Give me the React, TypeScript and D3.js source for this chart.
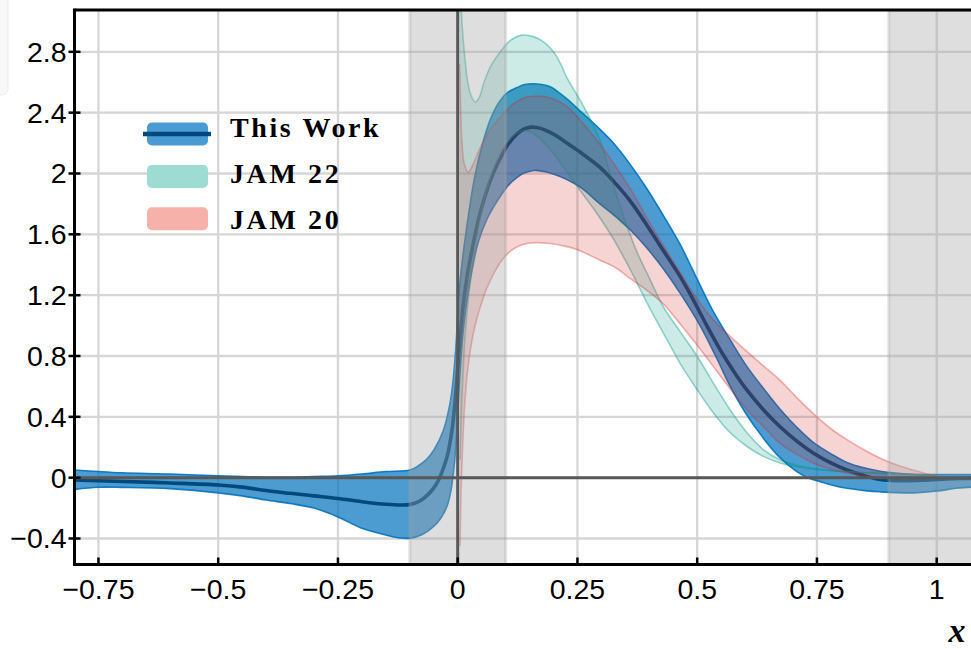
import * as d3 from "d3";

type Pt = [number, number];

// axis ticks
const xTicks = [-0.75, -0.5, -0.25, 0, 0.25, 0.5, 0.75, 1];
const yTicks = [-0.4, 0, 0.4, 0.8, 1.2, 1.6, 2, 2.4, 2.8];
const shadedRanges: Pt[] = [[-0.1, 0.1], [0.9, 1.2]];
const legendLabels = ["This Work", "JAM 22", "JAM 20"];

// This Work: central value and band
const thisWorkCentral: Pt[] = [
  [-0.8, -0.015], [-0.75, -0.02], [-0.7, -0.025], [-0.6, -0.035], [-0.5, -0.048], [-0.45, -0.062],
  [-0.4, -0.085], [-0.35, -0.103], [-0.3, -0.12], [-0.25, -0.137], [-0.2, -0.158], [-0.15, -0.175],
  [-0.12, -0.18], [-0.1, -0.177], [-0.08, -0.155], [-0.06, -0.105], [-0.045, -0.045], [-0.035, 0.02],
  [-0.022, 0.14], [-0.012, 0.31], [-0.005, 0.52], [0, 0.72], [0.006, 0.95], [0.012, 1.15], [0.02, 1.33],
  [0.03, 1.5], [0.042, 1.68], [0.054, 1.82], [0.07, 1.97], [0.089, 2.1], [0.105, 2.19], [0.124, 2.26],
  [0.14, 2.295], [0.155, 2.305], [0.175, 2.295], [0.193, 2.27], [0.21, 2.24], [0.228, 2.2], [0.26, 2.13],
  [0.297, 2.04], [0.325, 1.95], [0.36, 1.82], [0.395, 1.66], [0.43, 1.49], [0.465, 1.32], [0.49, 1.18],
  [0.52, 1.0], [0.548, 0.84], [0.576, 0.7], [0.604, 0.575], [0.64, 0.44], [0.673, 0.335], [0.71, 0.235],
  [0.743, 0.16], [0.78, 0.095], [0.8125, 0.05], [0.85, 0.012], [0.882, -0.012], [0.92, -0.02],
  [0.96, -0.018], [1.0, -0.012], [1.05, -0.006], [1.1, -0.004],
];
const thisWorkUpper: Pt[] = [
  [-0.8, 0.05], [-0.75, 0.04], [-0.7, 0.032], [-0.6, 0.024], [-0.5, 0.012], [-0.4, 0.003], [-0.35, 0.002],
  [-0.3, 0.007], [-0.25, 0.012], [-0.2, 0.024], [-0.15, 0.04], [-0.1, 0.05], [-0.085, 0.072], [-0.065, 0.12],
  [-0.05, 0.18], [-0.03, 0.31], [-0.016, 0.49], [-0.009, 0.66], [-0.003, 0.9], [0.002, 1.19], [0.009, 1.41],
  [0.019, 1.65], [0.035, 1.97], [0.054, 2.22], [0.07, 2.37], [0.089, 2.48], [0.105, 2.535], [0.124, 2.565],
  [0.14, 2.585], [0.158, 2.59], [0.175, 2.585], [0.193, 2.57], [0.21, 2.535], [0.228, 2.49], [0.256, 2.41],
  [0.297, 2.29], [0.325, 2.2], [0.36, 2.06], [0.395, 1.9], [0.43, 1.72], [0.465, 1.53], [0.49, 1.37],
  [0.513, 1.22], [0.534, 1.09], [0.57, 0.9], [0.604, 0.73], [0.64, 0.58], [0.673, 0.45], [0.71, 0.325],
  [0.743, 0.23], [0.78, 0.155], [0.8125, 0.1], [0.85, 0.063], [0.882, 0.042], [0.95, 0.022], [1.0, 0.02],
  [1.1, 0.02],
];
const thisWorkLower: Pt[] = [
  [-0.8, -0.077], [-0.75, -0.063], [-0.7, -0.064], [-0.6, -0.072], [-0.5, -0.1], [-0.45, -0.12],
  [-0.4, -0.147], [-0.35, -0.17], [-0.3, -0.2], [-0.25, -0.258], [-0.2, -0.333], [-0.15, -0.377],
  [-0.12, -0.397], [-0.1, -0.398], [-0.075, -0.375], [-0.05, -0.32], [-0.035, -0.265], [-0.0225, -0.19],
  [-0.015, -0.1], [-0.009, 0.03], [-0.004, 0.2], [0, 0.42], [0.005, 0.7], [0.012, 0.98], [0.022, 1.22],
  [0.032, 1.4], [0.043, 1.55], [0.061, 1.7], [0.075, 1.78], [0.089, 1.85], [0.105, 1.92], [0.124, 1.975],
  [0.14, 2.005], [0.16, 2.02], [0.185, 2.01], [0.214, 1.98], [0.256, 1.91], [0.297, 1.8], [0.325, 1.73],
  [0.36, 1.63], [0.395, 1.51], [0.43, 1.37], [0.465, 1.21], [0.506, 1.0], [0.54, 0.79], [0.569, 0.6],
  [0.6, 0.43], [0.638, 0.26], [0.67, 0.14], [0.708, 0.04], [0.735, -0.005], [0.757, -0.026],
  [0.7825, -0.05], [0.8125, -0.07], [0.85, -0.085], [0.882, -0.093], [0.951, -0.1], [1.0, -0.088],
  [1.04, -0.07], [1.072, -0.062], [1.1, -0.06],
];

// JAM 22 band
const jam22Upper: Pt[] = [
  [0.004, 3.3], [0.007, 3.1], [0.011, 2.9], [0.016, 2.73], [0.021, 2.6], [0.027, 2.52], [0.0365, 2.47],
  [0.045, 2.5], [0.055, 2.6], [0.068, 2.7], [0.089, 2.8], [0.11, 2.875], [0.134, 2.91], [0.158, 2.9],
  [0.179, 2.865], [0.2, 2.8], [0.215, 2.72], [0.228, 2.63], [0.263, 2.44], [0.297, 2.22], [0.32, 1.98],
  [0.345, 1.73], [0.372, 1.5], [0.402, 1.3], [0.43, 1.12], [0.4645, 0.96], [0.4995, 0.8], [0.534, 0.62],
  [0.569, 0.445], [0.604, 0.295], [0.638, 0.185], [0.673, 0.118], [0.708, 0.083], [0.743, 0.06],
  [0.8125, 0.04], [0.882, 0.03], [0.95, 0.022], [1.0, 0.015],
];
const jam22Lower: Pt[] = [
  [0.005, 0.12], [0.009, 0.53], [0.016, 0.95], [0.026, 1.28], [0.04, 1.58], [0.055, 1.82], [0.068, 1.97],
  [0.09, 2.14], [0.117, 2.25], [0.144, 2.28], [0.172, 2.23], [0.2, 2.13], [0.228, 2.01], [0.26, 1.87],
  [0.29, 1.74], [0.325, 1.57], [0.36, 1.37], [0.4, 1.12], [0.4436, 0.87], [0.4645, 0.75], [0.4995, 0.58],
  [0.534, 0.425], [0.569, 0.295], [0.604, 0.205], [0.638, 0.14], [0.673, 0.097], [0.708, 0.072],
  [0.743, 0.055], [0.8, 0.04], [0.9, 0.025], [1.0, 0.012],
];

// JAM 20 band
const jam20Upper: Pt[] = [
  [0.004, 2.72], [0.006, 2.45], [0.009, 2.2], [0.014, 2.06], [0.022, 2.01], [0.032, 2.06], [0.047, 2.17],
  [0.068, 2.29], [0.089, 2.37], [0.117, 2.46], [0.14, 2.5], [0.165, 2.51], [0.19, 2.5], [0.228, 2.44],
  [0.256, 2.35], [0.29, 2.22], [0.325, 2.07], [0.36, 1.9], [0.4, 1.68], [0.45, 1.42], [0.492, 1.21],
  [0.53, 1.05], [0.565, 0.94], [0.6, 0.84], [0.64, 0.73], [0.673, 0.64], [0.71, 0.52], [0.743, 0.42],
  [0.78, 0.32], [0.8125, 0.25], [0.85, 0.18], [0.882, 0.128], [0.92, 0.08], [0.951, 0.05], [0.986, 0.02],
  [1.0, 0.012],
];
const jam20Lower: Pt[] = [
  [0.005, -0.45], [0.007, -0.1], [0.009, 0.1], [0.012, 0.33], [0.0157, 0.53], [0.022, 0.74], [0.0296, 0.9],
  [0.038, 1.02], [0.047, 1.12], [0.06, 1.24], [0.075, 1.34], [0.09, 1.42], [0.11, 1.49], [0.133, 1.53],
  [0.158, 1.545], [0.193, 1.54], [0.22, 1.525], [0.249, 1.5], [0.297, 1.43], [0.33, 1.38], [0.36, 1.31],
  [0.4, 1.22], [0.43, 1.14], [0.4645, 1.01], [0.5, 0.87], [0.534, 0.73], [0.57, 0.58], [0.604, 0.445],
  [0.64, 0.33], [0.673, 0.226], [0.71, 0.15], [0.743, 0.095], [0.78, 0.055], [0.8125, 0.03], [0.85, 0.012],
  [0.882, 0.0], [0.95, 0.0], [1.0, 0.005],
];

const BLUE = "#0072bd";
const NAVY = "#00497e";
const TEAL = "#009988";
const RED = "#d62728";
const legendFill = ["#4a9bd4", "#9ddbd3", "#f5b1aa"];

const fmt = (v: number) => (v < 0 ? "\u2212" : "") + Math.abs(v).toString();

export default function App() {
  const width = 971;
  const height = 649;
  const left = 74.5, top = 10, bottom = 564.5;

  const x = d3.scaleLinear().domain([-0.8, 1.1]).range([left, 984.6]);
  const y = d3.scaleLinear().domain([-0.571, 3.075]).range([bottom, top]);

  const line = d3
    .line<Pt>()
    .x((d) => x(d[0]))
    .y((d) => y(d[1]))
    .curve(d3.curveCatmullRom.alpha(0.5));

  const band = (upper: Pt[], lower: Pt[]) =>
    line(upper)! + "L" + line(lower.slice().reverse())!.slice(1) + "Z";

  const tickFont = { fontFamily: "'Liberation Sans', Arial, sans-serif", fontSize: 28.5 };

  return (
    <svg width={width} height={height} style={{ position: "absolute", left: 0, top: 0, background: "#fff" }}>
      <defs>
        <clipPath id="plot">
          <rect x={left} y={top} width={width - left + 20} height={bottom - top} />
        </clipPath>
      </defs>
      <rect x={-20} y={-20} width={28} height={115} rx={6} fill="#f8f8f8" stroke="#ececec" />

      <g clipPath="url(#plot)">
        {xTicks.map((t) => (
          <line key={"gx" + t} x1={x(t)} x2={x(t)} y1={top} y2={bottom} stroke="#d6d6d6" strokeWidth={2.3} />
        ))}
        {yTicks.map((t) => (
          <line key={"gy" + t} x1={left} x2={width} y1={y(t)} y2={y(t)} stroke="#d6d6d6" strokeWidth={2.3} />
        ))}

        {/* This Work */}
        <path d={band(thisWorkUpper, thisWorkLower)} fill={BLUE} fillOpacity={0.7} />
        <path d={line(thisWorkUpper)!} fill="none" stroke={BLUE} strokeWidth={1.6} strokeOpacity={0.9} />
        <path d={line(thisWorkLower)!} fill="none" stroke={BLUE} strokeWidth={1.6} strokeOpacity={0.9} />
        <path d={line(thisWorkCentral)!} fill="none" stroke={NAVY} strokeWidth={3.6} />

        {/* JAM 22 */}
        <path d={band(jam22Upper, jam22Lower)} fill={TEAL} fillOpacity={0.2} />
        <path d={line(jam22Upper)!} fill="none" stroke={TEAL} strokeWidth={1.6} strokeOpacity={0.4} />
        <path d={line(jam22Lower)!} fill="none" stroke={TEAL} strokeWidth={1.6} strokeOpacity={0.4} />

        {/* JAM 20 */}
        <path d={band(jam20Upper, jam20Lower)} fill={RED} fillOpacity={0.2} />
        <path d={line(jam20Upper)!} fill="none" stroke={RED} strokeWidth={1.6} strokeOpacity={0.35} />
        <path d={line(jam20Lower)!} fill="none" stroke={RED} strokeWidth={1.6} strokeOpacity={0.35} />

        {/* excluded regions */}
        {shadedRanges.map(([a, b], i) => (
          <rect
            key={"s" + i}
            x={x(a)}
            y={top}
            width={x(b) - x(a)}
            height={bottom - top}
            fill="#a3a3a3"
            fillOpacity={0.36}
            stroke="#a3a3a3"
            strokeOpacity={0.3}
            strokeWidth={3}
          />
        ))}

        <line x1={x(0)} x2={x(0)} y1={top} y2={bottom} stroke="#585858" strokeWidth={3} />
        <line x1={left} x2={width} y1={y(0)} y2={y(0)} stroke="#585858" strokeWidth={3} />
      </g>

      {/* spines */}
      <line x1={left} x2={left} y1={top - 1.5} y2={bottom + 1.5} stroke="#000" strokeWidth={3} />
      <line x1={left} x2={width} y1={top} y2={top} stroke="#000" strokeWidth={3} />
      <line x1={left} x2={width} y1={bottom} y2={bottom} stroke="#000" strokeWidth={3} />

      {xTicks.map((t) => (
        <g key={"tx" + t}>
          <line x1={x(t)} x2={x(t)} y1={bottom} y2={bottom - 7} stroke="#000" strokeWidth={2.5} />
          <text x={x(t)} y={599} textAnchor="middle" {...tickFont} fill="#000">
            {fmt(t)}
          </text>
        </g>
      ))}
      {yTicks.map((t) => (
        <g key={"ty" + t}>
          <line x1={left - 6} x2={left + 6} y1={y(t)} y2={y(t)} stroke="#000" strokeWidth={2.5} />
          <text x={66.5} y={y(t) + 10} textAnchor="end" {...tickFont} fill="#000">
            {fmt(t)}
          </text>
        </g>
      ))}

      {/* legend */}
      {legendLabels.map((label, i) => {
        const cy = 134 + i * 42.4;
        return (
          <g key={label}>
            <rect x={147} y={cy - 11.5} width={61} height={23} rx={5} fill={legendFill[i]} />
            {i === 0 && <line x1={143} x2={211} y1={cy} y2={cy} stroke={NAVY} strokeWidth={4.5} />}
            <text
              x={230}
              y={137 + i * 46}
              fontFamily="'Liberation Serif', 'Times New Roman', serif"
              fontWeight="bold"
              fontSize={28}
              letterSpacing={2.6}
              fill="#000"
            >
              {label}
            </text>
          </g>
        );
      })}

      <text
        x={957}
        y={642}
        textAnchor="middle"
        fontFamily="'Liberation Serif', 'Times New Roman', serif"
        fontWeight="bold"
        fontStyle="italic"
        fontSize={34}
        fill="#000"
      >
        x
      </text>
    </svg>
  );
}
